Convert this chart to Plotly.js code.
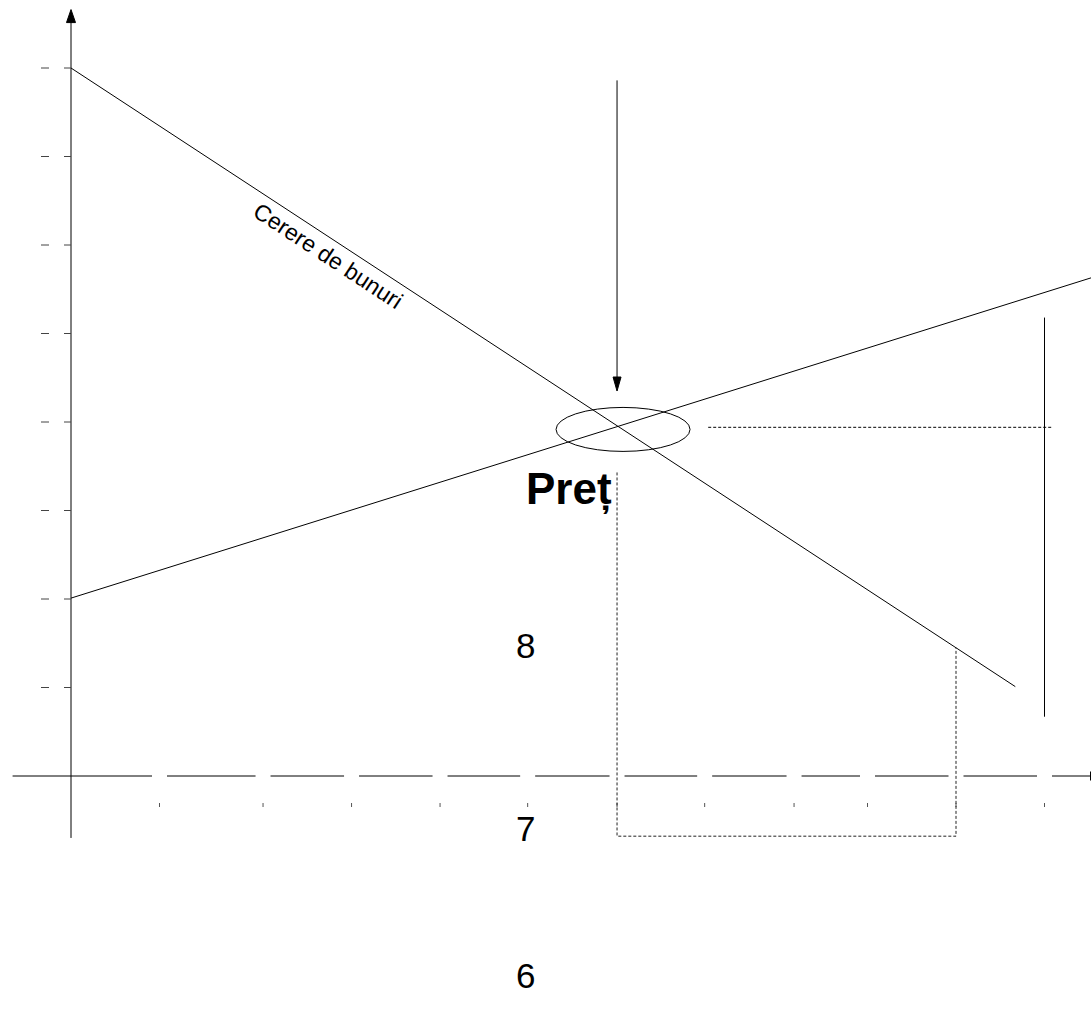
<!DOCTYPE html>
<html>
<head>
<meta charset="utf-8">
<script src="https://cdn.plot.ly/plotly-3.0.1.min.js"></script>
<style>html,body{margin:0;padding:0;background:#fff;}#chart{width:1091px;height:1016px;}</style>
</head>
<body>
<div id="chart"></div>
<script>
// ---- data (diagram units) ----
const xTicks = [1, 2.17, 3.17, 4.17, 5.16, 6.17, 7.16, 8.17, 9, 10, 11];
const yTicks = [1, 2, 3, 4, 5, 6, 7, 8];
const demandX = [0, 10.67];
const demandY = [8, 1.01];
const supplyX = [0, 11.53];
const supplyY = [2.01, 5.63];
const equilibriumQ = 6.17;
const equilibriumP = 3.95;
const arrowStartY = 7.86;
const arrowEndY = 4.35;
const priceGuideX = [7.2, 11.09];
const priceGuideY = [3.94, 3.94];
const rightBarX = [11.0, 11.0];
const rightBarY = [0.67, 5.18];
const boxX = [6.17, 6.17, 10, 10];
const boxY = [3.43, -0.68, -0.68, 1.45];
const axisXStart = -0.66;
const axisXEnd = 11.52;
const axisYBottom = -0.70;
const axisYTop = 8.66;
const demandLabel = "Cerere de bunuri";
const priceLabel = "Preț";
const numberLabels = ["8", "7", "6"];
const numberLabelY = [1.48, -0.59, -2.25];
const numberLabelX = 5.14;
const priceLabelPos = [5.63, 3.24];
const demandLabelPos = [2.91, 5.88];

// ---- layout helpers ----
const W = 1091, H = 1016, PX = 88.5;            // pixels per unit
const ox = 71, oy = 776;                         // origin in pixels
const xr = [-ox / PX, (W - ox) / PX];
const yr = [-(H - oy) / PX, oy / PX];
const p = v => v / PX;                           // pixel length -> units

const traces = [];
function line(xs, ys, extra) {
  traces.push(Object.assign({
    type: 'scatter', mode: 'lines', x: xs, y: ys, hoverinfo: 'skip',
    line: {color: '#000', width: 1}, connectgaps: false, showlegend: false
  }, extra || {}));
}

// demand & supply
line(demandX, demandY);
line(supplyX, supplyY);

// x axis, broken at each tick
(function () {
  const gap = p(7.5);
  const xs = [], ys = [];
  let s = axisXStart;
  xTicks.forEach(t => { xs.push(s, t - gap, null); ys.push(0, 0, null); s = t + gap; });
  xs.push(s, axisXEnd); ys.push(0, 0);
  line(xs, ys);
  // end bar
  line([axisXEnd, axisXEnd], [p(4.5), -p(4.5)]);
  // small tick marks below the axis
  const tx = [], ty = [];
  xTicks.forEach(t => { tx.push(t, t, null); ty.push(-p(27), -p(31), null); });
  line(tx, ty, {line: {color: '#555', width: 1}});
})();

// y axis with arrow
line([0, 0], [axisYBottom, axisYTop - p(10)]);
line([-p(4.5), p(4.5), 0, -p(4.5)],
     [axisYTop - p(13), axisYTop - p(13), axisYTop, axisYTop - p(13)],
     {fill: 'toself', fillcolor: '#000', line: {color: '#000', width: 1}});
(function () {
  const xs = [], ys = [];
  yTicks.forEach(v => {
    xs.push(-p(30), -p(22), null, -p(7), 0, null);
    ys.push(v, v, null, v, v, null);
  });
  line(xs, ys, {line: {color: '#444', width: 1}});
})();

// vertical arrow to equilibrium
line([equilibriumQ, equilibriumQ], [arrowStartY, arrowEndY + p(12)]);
line([equilibriumQ - p(4), equilibriumQ + p(4), equilibriumQ, equilibriumQ - p(4)],
     [arrowEndY + p(14), arrowEndY + p(14), arrowEndY, arrowEndY + p(14)],
     {fill: 'toself', fillcolor: '#000', line: {color: '#000', width: 1}});

// dotted guides
line(priceGuideX, priceGuideY, {line: {color: '#000', width: 1, dash: '3px,2px'}});
line(boxX, boxY, {line: {color: '#222', width: 1, dash: '3px,2px'}});
// right vertical bar
line(rightBarX, rightBarY);

const layout = {
  width: W, height: H,
  margin: {l: 0, r: 0, t: 0, b: 0},
  paper_bgcolor: '#fff', plot_bgcolor: '#fff',
  showlegend: false,
  xaxis: {range: xr, visible: false, fixedrange: true},
  yaxis: {range: yr, visible: false, fixedrange: true},
  shapes: [{
    type: 'circle', xref: 'x', yref: 'y',
    x0: equilibriumQ + p(6) - p(67), x1: equilibriumQ + p(6) + p(67),
    y0: equilibriumP - p(3) - p(22), y1: equilibriumP - p(3) + p(22),
    line: {color: '#000', width: 1}
  }],
  annotations: [
    {x: priceLabelPos[0], y: priceLabelPos[1], text: priceLabel, showarrow: false,
     font: {family: 'Liberation Sans, Arial, sans-serif', size: 44, color: '#000', weight: 'bold'},
     xanchor: 'center', yanchor: 'middle'},
    {x: demandLabelPos[0], y: demandLabelPos[1], text: demandLabel, showarrow: false,
     textangle: 33.25,
     font: {family: 'Liberation Sans, Arial, sans-serif', size: 23, color: '#000'},
     xanchor: 'center', yanchor: 'middle'}
  ].concat(numberLabels.map((t, i) => ({
    x: numberLabelX, y: numberLabelY[i], text: t, showarrow: false,
    font: {family: 'Liberation Sans, Arial, sans-serif', size: 35, color: '#000'},
    xanchor: 'center', yanchor: 'middle'
  })))
};

Plotly.newPlot('chart', traces, layout, {staticPlot: true, displayModeBar: false});
</script>
</body>
</html>
